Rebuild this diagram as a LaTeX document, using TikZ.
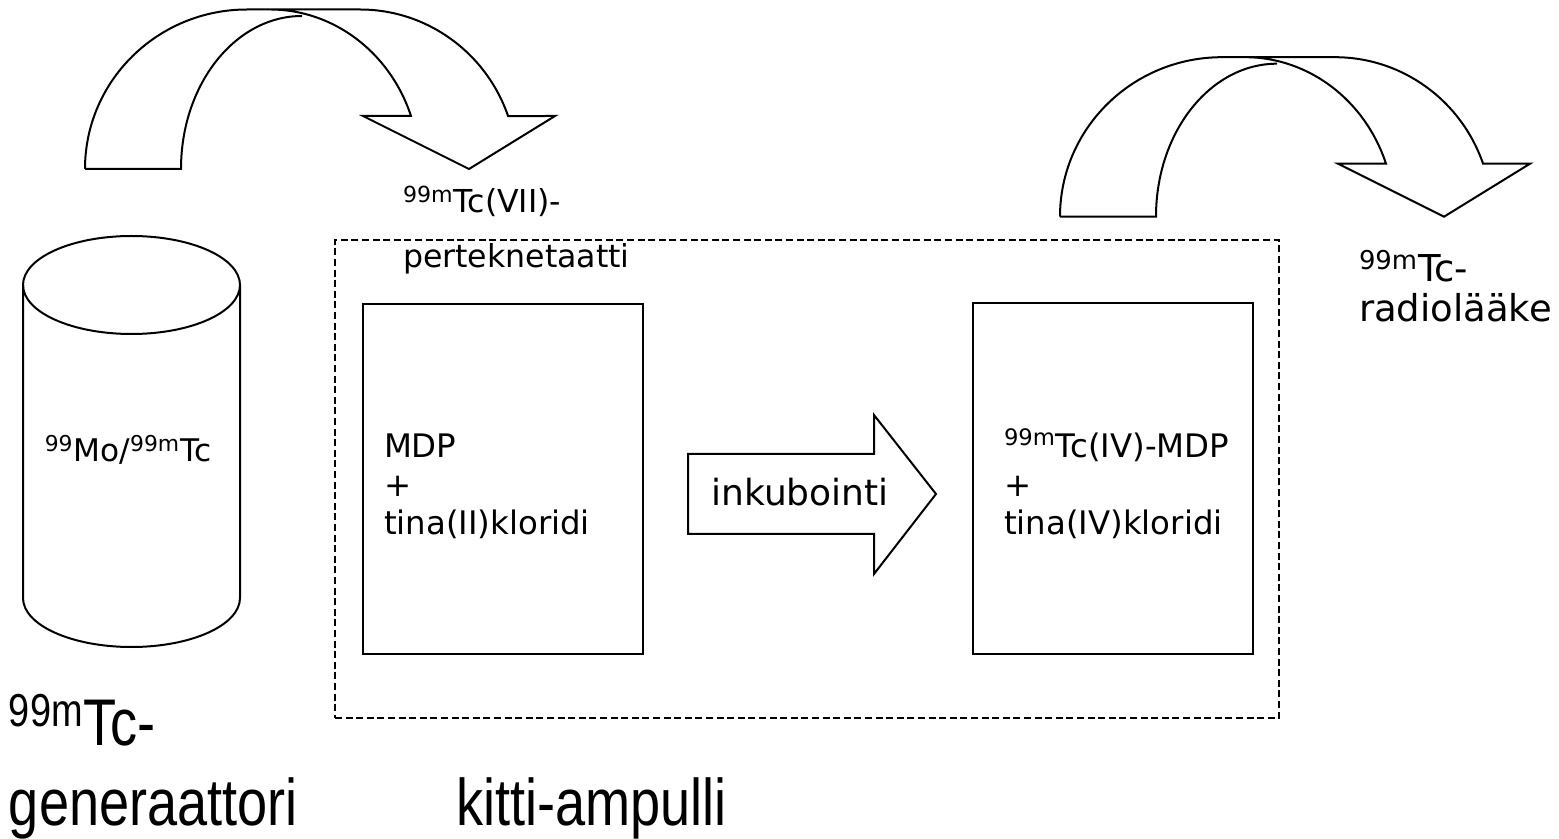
\documentclass[tikz,border=0pt]{standalone}
\usepackage{fontspec}
\setmainfont{DejaVu Sans}
\newfontfamily\narrowfont[FakeStretch=0.82]{Liberation Sans}
\usetikzlibrary{positioning}

\newcommand\massnum[1]{\textsuperscript{#1}}

\begin{document}
\begin{tikzpicture}[
    x=0.5pt, y=0.5pt,
    line width=1pt,
    txt/.style={inner sep=0pt, anchor=base west, align=left}, % base = last line
    boxfont/.style={font=\fontsize{16.2}{19.25}\selectfont},
    bigfont/.style={font=\narrowfont\fontsize{33}{40}\selectfont},
    kitbox/.style={
      draw,
      minimum width=140pt,
      minimum height=175pt,  % <- both boxes in the kit have the same size
      inner sep=0pt
    },
    ampoule/.style={draw, dash pattern=on 3.5pt off 1.8pt, line width=0.8pt,
      minimum width=472pt, minimum height=239pt, inner sep=0pt},
    bentarrow/.pic={
      \draw (0,0) arc[start angle=180, end angle=90, x radius=162, y radius=159.5]
        -- (275,159.5) arc[start angle=90, end angle=19.4, x radius=157, y radius=159.5]
        -- (470,53) -- (384,0) -- (278,53) -- (326,53)
        arc[start angle=19.4, end angle=90, x radius=149.5, y radius=159.5];
      \draw (0,0) -- (96,0) arc[start angle=180, end angle=90, x radius=121, y radius=153];
    }
  ]

  \useasboundingbox (0,0) rectangle (1559,-839);

% --- Generator (cylinder) ---
  \draw (23,-285) -- (23,-598)
    arc[start angle=180, end angle=360, x radius=108.5, y radius=49] -- (240,-285);
  \draw (131.5,-285) ellipse[x radius=108.5, y radius=49];
  \node[inner sep=0pt, anchor=base, font=\fontsize{15.6}{18}\selectfont] (gen) at (128,-462)
    {\massnum{99}Mo/\massnum{99m}Tc};

% --- Bent arrows: eluate into the kit, product out ---
  \pic (elute) at (85,-169) {bentarrow};
  \pic (out) at (1060,-216.7) {bentarrow};

% --- Kit ampoule (dashed) with the two states ---
  \node[ampoule] (kit) at (807,-479) {};
  \node[kitbox] (before) at (503,-479) {};
  \node[kitbox] (after) at (1112.5,-478.5) {};

  \node[txt, boxfont] (mdp) at (383,-535) {MDP\\+\\tina(II)kloridi};
  \node[txt, boxfont] (tcmdp) at (1003,-535) {\massnum{99m}Tc(IV)-MDP\\+\\tina(IV)kloridi};

% --- Incubation arrow ---
  \draw (688,-454) -- (874,-454) -- (874,-415) -- (936,-494)
    -- (874,-574) -- (874,-534) -- (688,-534) -- cycle;
  \node[inner sep=0pt, anchor=base, font=\fontsize{18}{22}\selectfont] (inkub) at (800,-506)
    {inkubointi};

% --- Labels ---
  \node[txt, font=\fontsize{15.8}{27.5}\selectfont] (pertek) at (402,-268)
    {\massnum{99m}Tc(VII)-\\perteknetaatti};
  \node[txt, font=\fontsize{18.5}{20}\selectfont] (radio) at (1358,-322)
    {\massnum{99m}Tc-\\radiolääke};
  \node[txt, bigfont] (genlabel) at (8,-825) {\massnum{99m}Tc-\\generaattori};
  \node[txt, bigfont] (kitlabel) at (455,-825) {kitti-ampulli};

\end{tikzpicture}
\end{document}
